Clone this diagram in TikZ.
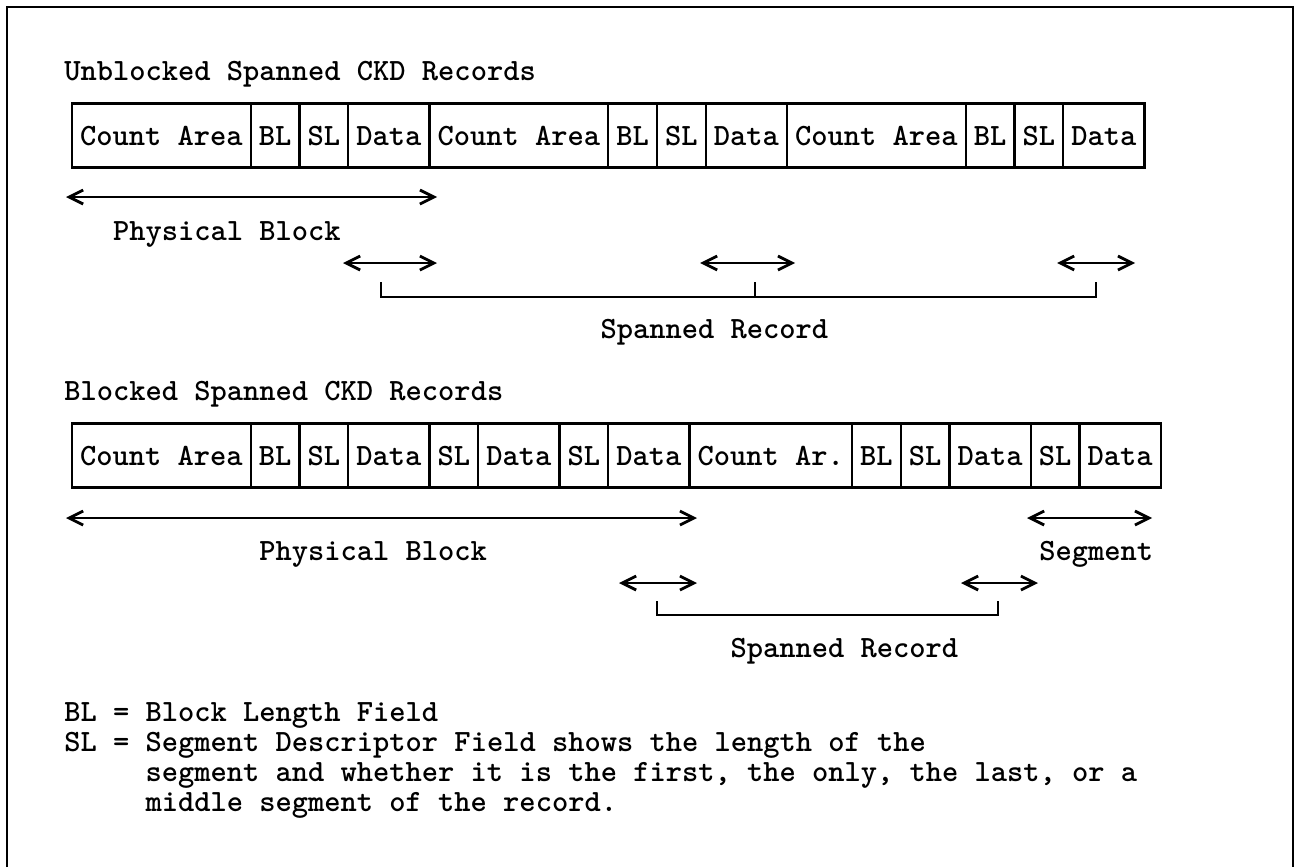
\documentclass[tikz,border=0pt]{standalone}
\usetikzlibrary{arrows.meta}
\newcommand\twfont{\fontsize{15.48}{18}\selectfont\ttfamily\bfseries\frenchspacing}
\begin{document}
\begin{tikzpicture}[x=0.5pt,y=-0.5pt,
  every node/.style={font=\twfont, inner sep=0pt, text=black},
  cell/.style={draw, line width=1.2pt, minimum height=32pt, text height=9.5pt, text depth=0pt},
  lbl/.style={anchor=base west},
  barb/.tip={Straight Barb[length=7pt,width=7pt,line width=1.4pt]},
  dim/.style={line width=1pt, barb-barb},
  brk/.style={line width=1pt},
  frm/.style={line width=1pt}]
\useasboundingbox (0,0) rectangle (1300,867);

% frame (open at the bottom)
\coordinate (f1) at (7,867);
\coordinate (f2) at (7,7);
\coordinate (f3) at (1293,7);
\coordinate (f4) at (1293,867);
\draw[frm] (f1) -- (f2) -- (f3) -- (f4);

% ---------- Unblocked ----------
\node[lbl] (title1) at (64,80) {Unblocked Spanned CKD Records};
\foreach \a/\b/\t/\n in {0/11/Count Area/u1, 11/14/BL/u2, 14/17/SL/u3, 17/22/Data/u4,
  22/33/Count Area/u5, 33/36/BL/u6, 36/39/SL/u7, 39/44/Data/u8,
  44/55/Count Area/u9, 55/58/BL/u10, 58/61/SL/u11, 61/66/Data/u12}{
  \pgfmathsetmacro\cx{72+16.25*(\a+\b)/2}
  \pgfmathsetmacro\w{(\b-\a)*8.125}
  \node[cell, minimum width=\w pt] (\n) at (\cx,135.5) {\t};
}
\coordinate (pb1L) at (66,197);
\coordinate (pb1R) at (437,197);
\draw[dim] (pb1L) -- (pb1R);
\node[lbl] (pb1) at (112.75,240) {Physical Block};
\coordinate (aL) at (343,263);
\coordinate (aR) at (437,263);
\coordinate (bL) at (700,263);
\coordinate (bR) at (795,263);
\coordinate (cL) at (1057,263);
\coordinate (cR) at (1135,263);
\draw[dim] (aL) -- (aR);
\draw[dim] (bL) -- (bR);
\draw[dim] (cL) -- (cR);
\coordinate (k1a) at (380.75,282);
\coordinate (k1b) at (380.75,297);
\coordinate (k1m) at (754.5,297);
\coordinate (k1n) at (754.5,282);
\coordinate (k1c) at (1095.75,297);
\coordinate (k1d) at (1095.75,282);
\draw[brk] (k1a) -- (k1b) -- (k1c) -- (k1d);
\draw[brk] (k1m) -- (k1n);
\node[lbl] (sr1) at (600.25,338) {Spanned Record};

% ---------- Blocked ----------
\node[lbl] (title2) at (64,400) {Blocked Spanned CKD Records};
\foreach \a/\b/\t/\n in {0/11/Count Area/v1, 11/14/BL/v2, 14/17/SL/v3, 17/22/Data/v4,
  22/25/SL/v5, 25/30/Data/v6, 30/33/SL/v7, 33/38/Data/v8,
  38/48/Count Ar./v9, 48/51/BL/v10, 51/54/SL/v11, 54/59/Data/v12,
  59/62/SL/v13, 62/67/Data/v14}{
  \pgfmathsetmacro\cx{72+16.25*(\a+\b)/2}
  \pgfmathsetmacro\w{(\b-\a)*8.125}
  \node[cell, minimum width=\w pt] (\n) at (\cx,455.5) {\t};
}
\coordinate (pb2L) at (66,518);
\coordinate (pb2R) at (697,518);
\draw[dim] (pb2L) -- (pb2R);
\coordinate (sgL) at (1027,518);
\coordinate (sgR) at (1152,518);
\draw[dim] (sgL) -- (sgR);
\node[lbl] (pb2) at (259,560) {Physical Block};
\node[lbl] (seg) at (1039,560) {Segment};
\coordinate (dL) at (619,583);
\coordinate (dR) at (697,583);
\coordinate (eL) at (961,583);
\coordinate (eR) at (1038,583);
\draw[dim] (dL) -- (dR);
\draw[dim] (eL) -- (eR);
\coordinate (k2a) at (657,601);
\coordinate (k2b) at (657,615);
\coordinate (k2c) at (998.25,615);
\coordinate (k2d) at (998.25,601);
\draw[brk] (k2a) -- (k2b) -- (k2c) -- (k2d);
\node[lbl] (sr2) at (730.25,657) {Spanned Record};

% ---------- legend ----------
\node[lbl] (leg1) at (64,721) {BL = Block Length Field};
\node[lbl] (leg2) at (64,751) {SL = Segment Descriptor Field shows the length of the};
\node[lbl] (leg3) at (145.25,781) {segment and whether it is the first, the only, the last, or a};
\node[lbl] (leg4) at (145.25,811) {middle segment of the record.};
\end{tikzpicture}
\end{document}
